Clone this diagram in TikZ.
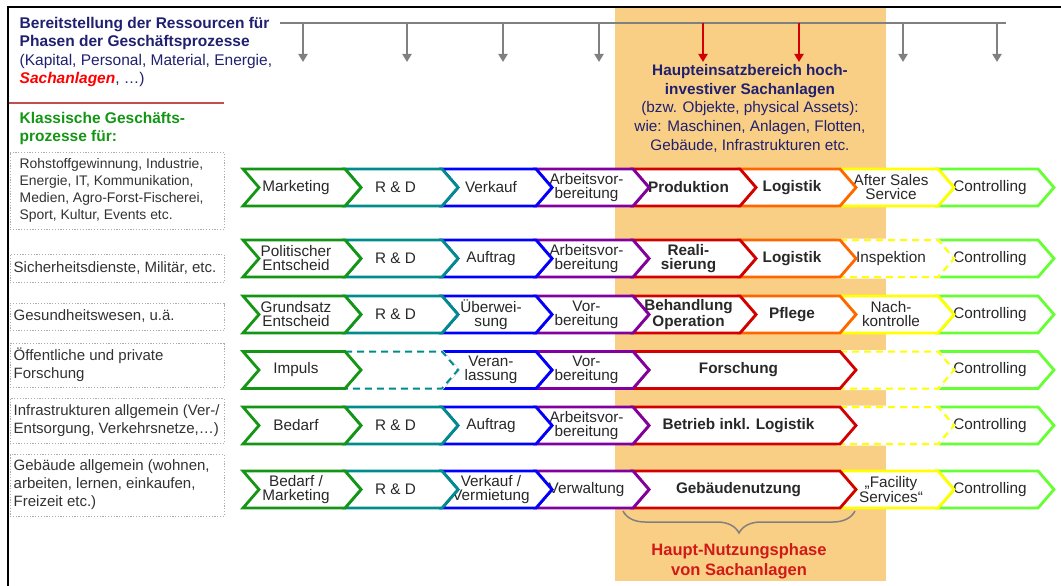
\documentclass[tikz,border=0pt]{standalone}
\usepackage{fontspec}
\setmainfont{Liberation Sans}
\usetikzlibrary{arrows.meta,decorations.pathreplacing}

\definecolor{navy}{RGB}{32,32,112}
\definecolor{bandor}{RGB}{249,207,133}
\definecolor{cgreen}{RGB}{20,150,20}
\definecolor{cteal}{RGB}{0,140,140}
\definecolor{cblue}{RGB}{0,0,255}
\definecolor{cpurple}{RGB}{128,0,160}
\definecolor{cred}{RGB}{210,0,0}
\definecolor{corange}{RGB}{255,102,0}
\definecolor{cyellow}{RGB}{255,255,0}
\definecolor{clime}{RGB}{102,255,51}
\definecolor{txt}{RGB}{40,40,40}
\definecolor{boxtxt}{RGB}{50,50,50}
\definecolor{arrgray}{RGB}{128,128,128}
\definecolor{rulered}{RGB}{192,80,77}
\definecolor{titlered}{RGB}{210,25,25}
\definecolor{brightred}{RGB}{255,0,0}

% one process step: name, left x, right x, centre y, outline style, text style, label
\newcommand\chev[7]{%
  \path[#5] (#2,#4-18.5) -- (#3,#4-18.5) -- (#3+16,#4) -- (#3,#4+18.5)
     -- (#2,#4+18.5) -- (#2+16,#4) -- cycle;
  \node[#6] (#1) at ({(#2+#3)/2+2},#4) {#7};}

\tikzset{
  chev/.style={draw=#1, fill=white, line width=2.8pt, line join=miter},
  chevdash/.style={draw=#1, fill=white, line width=2pt, dash pattern=on 7pt off 5pt,
     preaction={draw=white, solid, line width=3pt}},
  ctext/.style={font=\fontsize{15.3}{14}\selectfont, text=txt, align=center, inner sep=0pt},
  cbold/.style={font=\fontsize{15.3}{14}\selectfont\bfseries, text=txt, align=center, inner sep=0pt},
  lbox/.style={draw=black!32, line width=1pt, dash pattern=on 1.2pt off 1.6pt,
     minimum width=214pt, anchor=north west, inner sep=0pt},
  boxtext/.style={font=\fontsize{15}{18}\selectfont, text=boxtxt, align=left, inner sep=0pt, anchor=west},
  headb/.style={font=\fontsize{15.5}{18}\selectfont\bfseries, text=navy, inner sep=0pt, anchor=base west},
  headn/.style={font=\fontsize{15.5}{18}\selectfont, text=navy, inner sep=0pt, anchor=base west},
  bandb/.style={font=\fontsize{15.3}{18}\selectfont\bfseries, text=navy, inner sep=0pt, anchor=base},
  bandn/.style={font=\fontsize{15.3}{18}\selectfont, text=navy, inner sep=0pt, anchor=base},
  feed/.style={draw=arrgray, line width=2.5pt, -{Triangle[width=9pt,length=8pt]}},
  feedred/.style={draw=cred, line width=2.5pt, -{Triangle[width=9pt,length=8pt]}},
}

\begin{document}
\begin{tikzpicture}[x=1pt,y=-1pt]
\useasboundingbox (0,0) rectangle (1061,586);

% usage phase band
\fill[bandor] (615,8.5) rectangle (886,581);

% frame
\draw[line width=2.6pt] (8,586) -- (8,7) -- (1061,7);

% resource heading
\node[headb] (h1) at (19.5,28.5) {Bereitstellung der Ressourcen für};
\node[headb] (h2) at (19.5,47) {Phasen der Geschäftsprozesse};
\node[headn] (h3) at (19.5,65.5) {(Kapital, Personal, Material, Energie,};
\node[headn] (h4) at (19.5,84) {\textcolor{brightred}{\bfseries\itshape Sachanlagen}, …)};

\draw[rulered, line width=1.2pt] (9,103) -- (224,103);

\node[headb, text=cgreen] (k1) at (19.5,124) {Klassische Geschäfts-};
\node[headb, text=cgreen] (k2) at (19.5,142) {prozesse für:};

% resource bus and feeds
\coordinate (busL) at (280,23);
\coordinate (busR) at (1006,23);
\draw[arrgray, line width=2.5pt] (busL) -- (busR);
\foreach \x [count=\i] in {303,407,503,599,903,997} {
  \coordinate (fs\i) at (\x,23);
  \coordinate (fe\i) at (\x,62);
  \draw[feed] (fs\i) -- (fe\i);
}
\foreach \x [count=\i] in {703,799} {
  \coordinate (rs\i) at (\x,23);
  \coordinate (re\i) at (\x,62);
  \draw[feedred] (rs\i) -- (re\i);
}

% band heading
\node[bandb] (b1) at (750,76) {Haupteinsatzbereich hoch-};
\node[bandb] (b2) at (750,94.5) {investiver Sachanlagen};
\node[bandn] (b3) at (750,113) {(bzw. Objekte, physical Assets):};
\node[bandn] (b4) at (750,131.5) {wie: Maschinen, Anlagen, Flotten,};
\node[bandn] (b5) at (750,150) {Gebäude, Infrastrukturen etc.};

% sector boxes
\node[lbox, minimum height=77pt] (s1) at (9.5,152) {};
\node[boxtext, font=\fontsize{13.9}{17}\selectfont] (t1) at (19.5,190.5)
  {Rohstoffgewinnung, Industrie,\\Energie, IT, Kommunikation,\\Medien, Agro-Forst-Fischerei,\\Sport, Kultur, Events etc.};
\node[lbox, minimum height=28pt] (s2) at (9.5,254) {};
\node[boxtext] (t2) at (13.5,268) {Sicherheitsdienste, Militär, etc.};
\node[lbox, minimum height=27pt] (s3) at (9.5,303) {};
\node[boxtext] (t3) at (13.5,316.5) {Gesundheitswesen, u.ä.};
\node[lbox, minimum height=44pt] (s4) at (9.5,343) {};
\node[boxtext] (t4) at (13.5,365) {Öffentliche und private\\Forschung};
\node[lbox, minimum height=45pt] (s5) at (9.5,398) {};
\node[boxtext] (t5) at (13.5,420.5) {Infrastrukturen allgemein (Ver-/\\Entsorgung, Verkehrsnetze,…)};
\node[lbox, minimum height=62pt] (s6) at (9.5,454) {};
\node[boxtext] (t6) at (13.5,485) {Gebäude allgemein (wohnen,\\arbeiten, lernen, einkaufen,\\Freizeit etc.)};

% row 1
\chev{r1h}{938}{1038}{187.5}{chev=clime}{ctext}{Controlling}
\chev{r1g}{840}{938}{187.5}{chev=cyellow}{ctext}{After Sales\\Service}
\chev{r1f}{740}{840}{187.5}{chev=corange}{cbold}{Logistik}
\chev{r1e}{633}{740}{187.5}{chev=cred}{cbold}{Produktion}
\chev{r1d}{536}{633}{187.5}{chev=cpurple}{ctext}{Arbeitsvor-\\bereitung}
\chev{r1c}{442}{536}{187.5}{chev=cblue}{ctext}{Verkauf}
\chev{r1b}{345}{442}{187.5}{chev=cteal}{ctext}{R \& D}
\chev{r1a}{243}{345}{187.5}{chev=cgreen}{ctext}{Marketing}

% row 2
\chev{r2h}{938}{1038}{258.5}{chev=clime}{ctext}{Controlling}
\chev{r2g}{840}{938}{258.5}{chevdash=cyellow}{ctext}{Inspektion}
\chev{r2f}{740}{840}{258.5}{chev=corange}{cbold}{Logistik}
\chev{r2e}{633}{740}{258.5}{chev=cred}{cbold}{Reali-\\sierung}
\chev{r2d}{536}{633}{258.5}{chev=cpurple}{ctext}{Arbeitsvor-\\bereitung}
\chev{r2c}{442}{536}{258.5}{chev=cblue}{ctext}{Auftrag}
\chev{r2b}{345}{442}{258.5}{chev=cteal}{ctext}{R \& D}
\chev{r2a}{243}{345}{258.5}{chev=cgreen}{ctext}{Politischer\\Entscheid}

% row 3
\chev{r3h}{938}{1038}{314.5}{chev=clime}{ctext}{Controlling}
\chev{r3g}{840}{938}{314.5}{chev=cyellow}{ctext}{Nach-\\kontrolle}
\chev{r3f}{740}{840}{314.5}{chev=corange}{cbold}{Pflege}
\chev{r3e}{633}{740}{314.5}{chev=cred}{cbold}{Behandlung\\Operation}
\chev{r3d}{536}{633}{314.5}{chev=cpurple}{ctext}{Vor-\\bereitung}
\chev{r3c}{442}{536}{314.5}{chev=cblue}{ctext}{Überwei-\\sung}
\chev{r3b}{345}{442}{314.5}{chev=cteal}{ctext}{R \& D}
\chev{r3a}{243}{345}{314.5}{chev=cgreen}{ctext}{Grundsatz\\Entscheid}

% row 4
\chev{r4h}{938}{1038}{370}{chev=clime}{ctext}{Controlling}
\chev{r4g}{840}{938}{370}{chevdash=cyellow}{ctext}{}
\chev{r4e}{633}{840}{370}{chev=cred}{cbold}{Forschung}
\chev{r4d}{536}{633}{370}{chev=cpurple}{ctext}{Vor-\\bereitung}
\chev{r4c}{442}{536}{370}{chev=cblue}{ctext}{Veran-\\lassung}
\chev{r4b}{345}{442}{370}{chevdash=cteal}{ctext}{}
\chev{r4a}{243}{345}{370}{chev=cgreen}{ctext}{Impuls}

% row 5
\chev{r5h}{938}{1038}{425.5}{chev=clime}{ctext}{Controlling}
\chev{r5g}{840}{938}{425.5}{chevdash=cyellow}{ctext}{}
\chev{r5e}{633}{840}{425.5}{chev=cred}{cbold}{Betrieb inkl. Logistik}
\chev{r5d}{536}{633}{425.5}{chev=cpurple}{ctext}{Arbeitsvor-\\bereitung}
\chev{r5c}{442}{536}{425.5}{chev=cblue}{ctext}{Auftrag}
\chev{r5b}{345}{442}{425.5}{chev=cteal}{ctext}{R \& D}
\chev{r5a}{243}{345}{425.5}{chev=cgreen}{ctext}{Bedarf}

% row 6
\chev{r6h}{938}{1038}{489.5}{chev=clime}{ctext}{Controlling}
\chev{r6g}{840}{938}{489.5}{chev=cyellow}{ctext}{„Facility\\Services“}
\chev{r6e}{633}{840}{489.5}{chev=cred}{cbold}{Gebäudenutzung}
\chev{r6d}{536}{633}{489.5}{chev=cpurple}{ctext}{Verwaltung}
\chev{r6c}{442}{536}{489.5}{chev=cblue}{ctext}{Verkauf /\\Vermietung}
\chev{r6b}{345}{442}{489.5}{chev=cteal}{ctext}{R \& D}
\chev{r6a}{243}{345}{489.5}{chev=cgreen}{ctext}{Bedarf /\\Marketing}

% usage phase brace and caption
\coordinate (brR) at (855,511);
\coordinate (brL) at (623,511);
\draw[arrgray, line width=1.5pt, decorate, decoration={brace, amplitude=22pt}] (brR) -- (brL);
\node[bandb, font=\fontsize{16.5}{20}\selectfont\bfseries, text=titlered] (u1) at (739,555) {Haupt-Nutzungsphase};
\node[bandb, font=\fontsize{16.5}{20}\selectfont\bfseries, text=titlered] (u2) at (739,575) {von Sachanlagen};
\end{tikzpicture}
\end{document}
